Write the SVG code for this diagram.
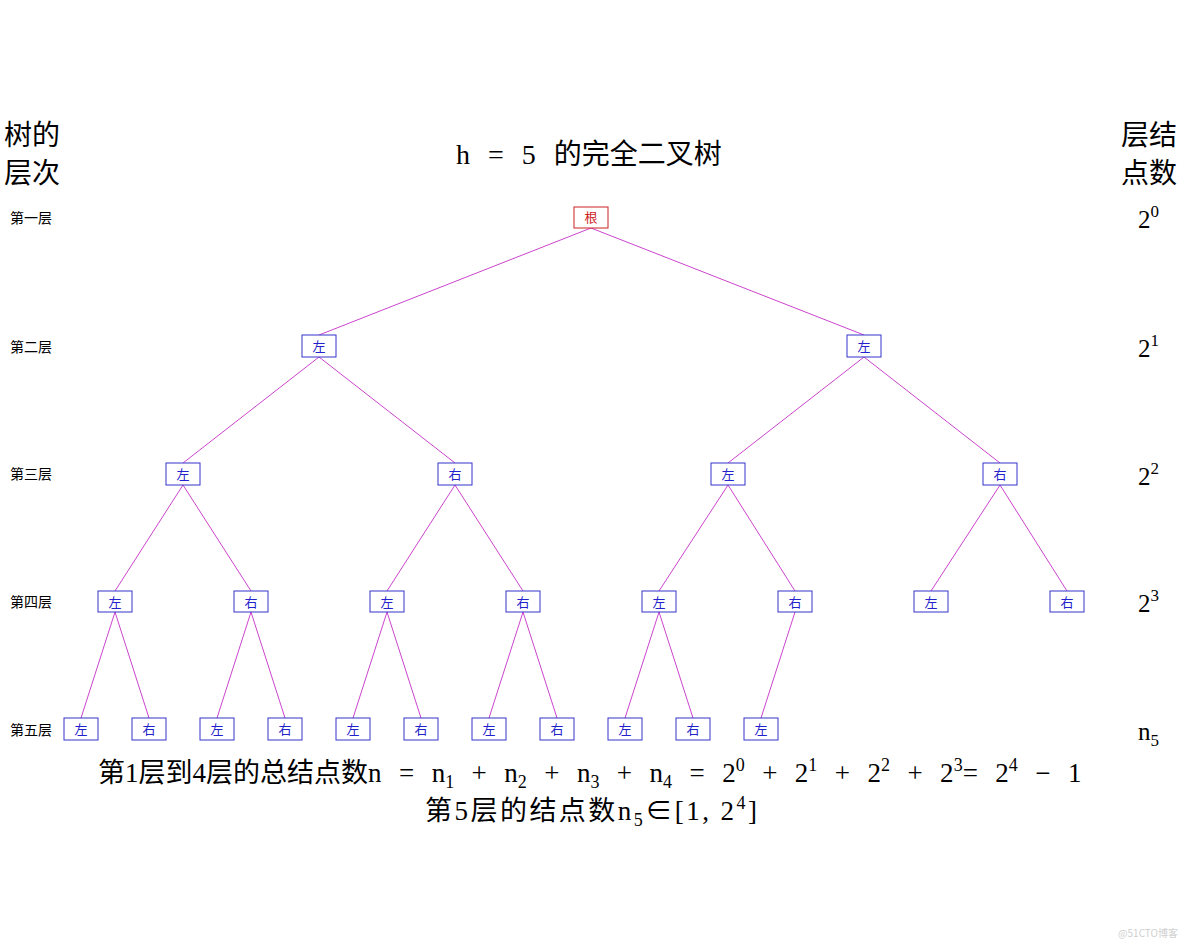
<svg xmlns="http://www.w3.org/2000/svg" width="1184" height="947" viewBox="0 0 1184 947">
<style>
.bg{fill:#fff}
.n rect{fill:#fff;stroke:#3333cc;stroke-width:1}
.n text{font-family:"Noto Sans CJK SC",sans-serif;font-size:13px;fill:#2222cc;text-anchor:middle}
.r rect{stroke:#cc2222}
.r text{fill:#cc2222}
.e line{stroke:#cc44cc;stroke-width:1}
.hd{font-family:"Liberation Serif","Noto Sans CJK SC",serif;font-size:28px;fill:#000}
.lv{font-family:"Noto Sans CJK SC",sans-serif;font-size:14px;fill:#000}
.cnt{font-family:"Liberation Serif",serif;font-size:25px;fill:#000}
.eq{font-family:"Liberation Serif","Noto Sans CJK SC",serif;font-size:27px;fill:#000}
</style>
<rect class="bg" width="1184" height="947"/>
<text class="hd" x="4" y="145">树的</text>
<text class="hd" x="4" y="183">层次</text>
<text class="hd" x="1121" y="145">层结</text>
<text class="hd" x="1121" y="183">点数</text>
<text class="hd" x="456" y="164" word-spacing="11" xml:space="preserve">h = 5 的完全二叉树</text>
<text class="lv" x="10" y="223">第一层</text>
<text class="lv" x="10" y="352">第二层</text>
<text class="lv" x="10" y="479">第三层</text>
<text class="lv" x="10" y="607">第四层</text>
<text class="lv" x="10" y="735">第五层</text>
<text class="cnt" x="1138" y="228">2<tspan font-size="17" dy="-11">0</tspan></text>
<text class="cnt" x="1138" y="357">2<tspan font-size="17" dy="-11">1</tspan></text>
<text class="cnt" x="1138" y="485">2<tspan font-size="17" dy="-11">2</tspan></text>
<text class="cnt" x="1138" y="612">2<tspan font-size="17" dy="-11">3</tspan></text>
<text class="cnt" x="1138" y="740">n<tspan font-size="17" dy="6">5</tspan></text>
<g class="e" id="connectors">
<line x1="591" y1="228" x2="319" y2="335"/>
<line x1="591" y1="228" x2="864" y2="335"/>
<line x1="319" y1="357" x2="183" y2="463"/>
<line x1="319" y1="357" x2="455" y2="463"/>
<line x1="864" y1="357" x2="728" y2="463"/>
<line x1="864" y1="357" x2="1000" y2="463"/>
<line x1="183" y1="485" x2="115" y2="591"/>
<line x1="183" y1="485" x2="251" y2="591"/>
<line x1="455" y1="485" x2="387" y2="591"/>
<line x1="455" y1="485" x2="523" y2="591"/>
<line x1="728" y1="485" x2="659" y2="591"/>
<line x1="728" y1="485" x2="795" y2="591"/>
<line x1="1000" y1="485" x2="931" y2="591"/>
<line x1="1000" y1="485" x2="1067" y2="591"/>
<line x1="115" y1="612" x2="81" y2="718"/>
<line x1="115" y1="612" x2="149" y2="718"/>
<line x1="251" y1="612" x2="217" y2="718"/>
<line x1="251" y1="612" x2="285" y2="718"/>
<line x1="387" y1="612" x2="353" y2="718"/>
<line x1="387" y1="612" x2="421" y2="718"/>
<line x1="523" y1="612" x2="489" y2="718"/>
<line x1="523" y1="612" x2="557" y2="718"/>
<line x1="659" y1="612" x2="625" y2="718"/>
<line x1="659" y1="612" x2="693" y2="718"/>
<line x1="795" y1="612" x2="761" y2="718"/>
</g>
<g class="n r" id="root"><rect x="574" y="207" width="34" height="21"/><text x="591" y="222">根</text></g>
<g class="n" id="n2a"><rect x="302" y="335" width="34" height="22"/><text x="319" y="351">左</text></g>
<g class="n" id="n2b"><rect x="847" y="335" width="34" height="22"/><text x="864" y="351">左</text></g>
<g class="n" id="n3a"><rect x="166" y="463" width="34" height="22"/><text x="183" y="479">左</text></g>
<g class="n" id="n3b"><rect x="438" y="463" width="34" height="22"/><text x="455" y="479">右</text></g>
<g class="n" id="n3c"><rect x="711" y="463" width="34" height="22"/><text x="728" y="479">左</text></g>
<g class="n" id="n3d"><rect x="983" y="463" width="34" height="22"/><text x="1000" y="479">右</text></g>
<g class="n" id="n4a"><rect x="98" y="591" width="34" height="21"/><text x="115" y="607">左</text></g>
<g class="n" id="n4b"><rect x="234" y="591" width="34" height="21"/><text x="251" y="607">右</text></g>
<g class="n" id="n4c"><rect x="370" y="591" width="34" height="21"/><text x="387" y="607">左</text></g>
<g class="n" id="n4d"><rect x="506" y="591" width="34" height="21"/><text x="523" y="607">右</text></g>
<g class="n" id="n4e"><rect x="642" y="591" width="34" height="21"/><text x="659" y="607">左</text></g>
<g class="n" id="n4f"><rect x="778" y="591" width="34" height="21"/><text x="795" y="607">右</text></g>
<g class="n" id="n4g"><rect x="914" y="591" width="34" height="21"/><text x="931" y="607">左</text></g>
<g class="n" id="n4h"><rect x="1050" y="591" width="34" height="21"/><text x="1067" y="607">右</text></g>
<g class="n" id="n5a"><rect x="64" y="718" width="34" height="22"/><text x="81" y="734">左</text></g>
<g class="n" id="n5b"><rect x="132" y="718" width="34" height="22"/><text x="149" y="734">右</text></g>
<g class="n" id="n5c"><rect x="200" y="718" width="34" height="22"/><text x="217" y="734">左</text></g>
<g class="n" id="n5d"><rect x="268" y="718" width="34" height="22"/><text x="285" y="734">右</text></g>
<g class="n" id="n5e"><rect x="336" y="718" width="34" height="22"/><text x="353" y="734">左</text></g>
<g class="n" id="n5f"><rect x="404" y="718" width="34" height="22"/><text x="421" y="734">右</text></g>
<g class="n" id="n5g"><rect x="472" y="718" width="34" height="22"/><text x="489" y="734">左</text></g>
<g class="n" id="n5h"><rect x="540" y="718" width="34" height="22"/><text x="557" y="734">右</text></g>
<g class="n" id="n5i"><rect x="608" y="718" width="34" height="22"/><text x="625" y="734">左</text></g>
<g class="n" id="n5j"><rect x="676" y="718" width="34" height="22"/><text x="693" y="734">右</text></g>
<g class="n" id="n5k"><rect x="744" y="718" width="34" height="22"/><text x="761" y="734">左</text></g>
<text class="eq" x="98" y="782" word-spacing="10.7" xml:space="preserve">第1层到4层的总结点数n = n<tspan font-size="18" dy="6">1</tspan><tspan dy="-6"> + n</tspan><tspan font-size="18" dy="6">2</tspan><tspan dy="-6"> + n</tspan><tspan font-size="18" dy="6">3</tspan><tspan dy="-6"> + n</tspan><tspan font-size="18" dy="6">4</tspan><tspan dy="-6"> = 2</tspan><tspan font-size="18" dy="-11">0</tspan><tspan dy="11"> + 2</tspan><tspan font-size="18" dy="-11">1</tspan><tspan dy="11"> + 2</tspan><tspan font-size="18" dy="-11">2</tspan><tspan dy="11"> + 2</tspan><tspan font-size="18" dy="-11">3</tspan><tspan dy="11">= 2</tspan><tspan font-size="18" dy="-11">4</tspan><tspan dy="11"> − 1</tspan></text>
<text class="eq" x="425" y="820" textLength="332" lengthAdjust="spacing">第5层的结点数n<tspan font-size="18" dy="6">5</tspan><tspan dy="-6">∈[1, 2</tspan><tspan font-size="18" dy="-11">4</tspan><tspan dy="11">]</tspan></text>
<text x="1178" y="937" text-anchor="end" font-family="Noto Sans CJK SC,sans-serif" font-size="10" fill="#d0d0d0">@51CTO博客</text>
</svg>
